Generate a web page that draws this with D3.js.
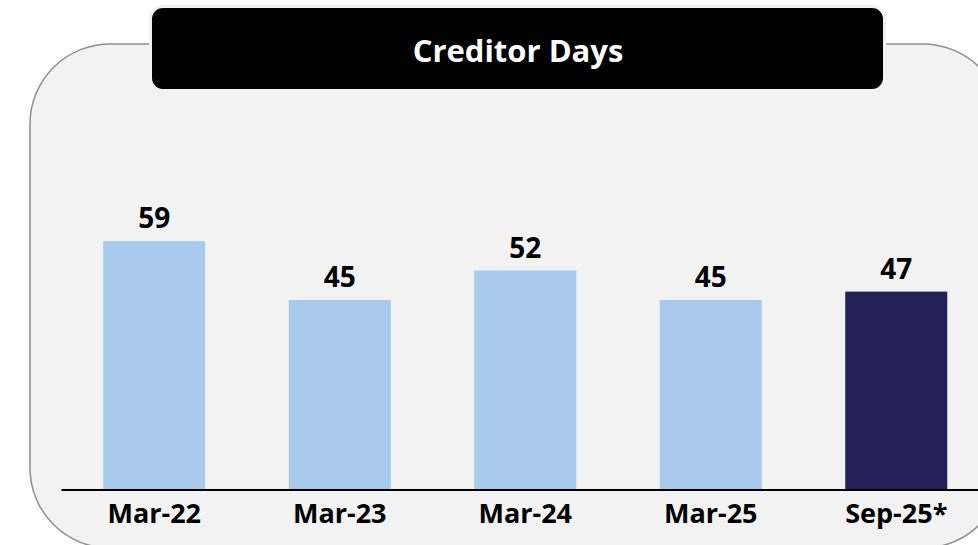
<!DOCTYPE html>
<html>
<head>
<meta charset="utf-8">
<script src="https://cdn.jsdelivr.net/npm/d3@7"></script>
<style>
  body { margin: 0; background: #ffffff; }
  svg { display: block; font-family: "Open Sans", "Noto Sans", sans-serif; }
</style>
</head>
<body>
<script>
// creditor days bar chart

var width = 978;
var height = 545;

var chartTitle = 'Creditor Days';
var periods = ['Mar-22', 'Mar-23', 'Mar-24', 'Mar-25', 'Sep-25*'];
var creditorDays = [59, 45, 52, 45, 47];
var barColors = ['#a8caec', '#a8caec', '#a8caec', '#a8caec', '#23215a'];

var data = periods.map(function(p, i) {
  return { period: p, value: creditorDays[i], color: barColors[i] };
});

var svg = d3.select('body').append('svg')
  .attr('width', width)
  .attr('height', height);

// grey rounded panel, runs off the right and bottom edge
svg.append('rect')
  .attr('x', 30)
  .attr('y', 44)
  .attr('width', 973)
  .attr('height', 504)
  .attr('rx', 80)
  .attr('fill', '#f2f2f2')
  .attr('stroke', '#8f8f8f')
  .attr('stroke-width', 1.5);

// black title box with a light halo over the panel border
svg.append('rect')
  .attr('x', 152)
  .attr('y', 8)
  .attr('width', 731)
  .attr('height', 81)
  .attr('rx', 11)
  .attr('fill', '#000')
  .attr('stroke', '#f2f2f2')
  .attr('stroke-width', 6);

svg.append('rect')
  .attr('x', 152)
  .attr('y', 8)
  .attr('width', 731)
  .attr('height', 81)
  .attr('rx', 11)
  .attr('fill', '#000');

svg.append('text')
  .attr('x', 518)
  .attr('y', 62)
  .attr('text-anchor', 'middle')
  .attr('fill', '#fff')
  .attr('font-size', 31)
  .attr('font-weight', 'bold')
  .text(chartTitle);

var x = d3.scaleBand()
  .domain(periods)
  .range([61.5, 989])
  .paddingInner(0.45)
  .paddingOuter(0.225);

var y = d3.scaleLinear()
  .domain([0, 70])
  .range([489, 195]);

svg.selectAll('rect.bar')
  .data(data)
  .enter().append('rect')
  .attr('class', 'bar')
  .attr('x', function(d) { return x(d.period); })
  .attr('y', function(d) { return y(d.value); })
  .attr('width', x.bandwidth())
  .attr('height', function(d) { return y(0) - y(d.value); })
  .attr('fill', function(d) { return d.color; });

svg.selectAll('text.value')
  .data(data)
  .enter().append('text')
  .attr('class', 'value')
  .attr('x', function(d) { return x(d.period) + x.bandwidth() / 2; })
  .attr('y', function(d) { return y(d.value) - 13; })
  .attr('text-anchor', 'middle')
  .attr('font-size', 28)
  .attr('font-weight', 'bold')
  .attr('fill', '#000')
  .text(function(d) { return d.value; });

// x axis: line + period labels
var xAxis = svg.append('g')
  .attr('transform', 'translate(0,' + y(0) + ')')
  .call(d3.axisBottom(x).tickSize(0).tickPadding(15));

xAxis.select('.domain')
  .attr('stroke', '#000')
  .attr('stroke-width', 2)
  .attr('d', 'M61.5,1H989');

xAxis.selectAll('text')
  .attr('font-family', '"Open Sans", "Noto Sans", sans-serif')
  .attr('font-size', 27)
  .attr('font-weight', 'bold')
  .attr('fill', '#000');
</script>
</body>
</html>
